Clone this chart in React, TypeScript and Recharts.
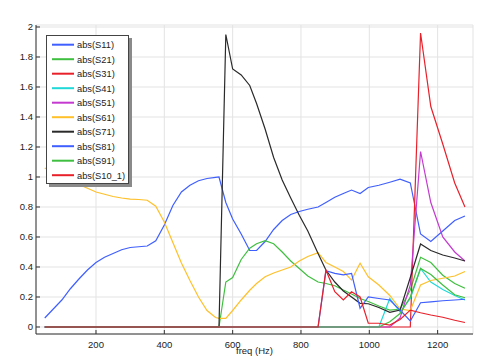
import React from "react";
import { LineChart, Line, XAxis, YAxis, CartesianGrid, Legend } from "recharts";

const FONT = "'Liberation Sans', Arial, sans-serif";

// fine sweep, only S11 and S61 are non-zero here
const FREQ_LOW = [50, 75, 100, 125, 150, 175, 200, 225, 250, 275, 300, 325, 350, 375, 400, 425, 450, 475, 500, 525, 550];
const S11_LOW = [0.06, 0.12, 0.18, 0.255, 0.32, 0.38, 0.43, 0.465, 0.49, 0.515, 0.53, 0.535, 0.54, 0.575, 0.68, 0.81, 0.9, 0.945, 0.975, 0.99, 0.998];
const S61_LOW = [1.06, 1.03, 1.0, 0.975, 0.95, 0.925, 0.9, 0.885, 0.87, 0.86, 0.853, 0.85, 0.845, 0.805, 0.7, 0.563, 0.427, 0.31, 0.2, 0.11, 0.063];

// coarse sweep
const FREQ_HIGH = [560, 580, 600, 625, 650, 670, 695, 720, 745, 770, 795, 820, 850, 873, 899, 924, 948, 973, 997, 1028, 1060, 1090, 1120, 1150, 1180, 1215, 1250, 1280];
const S11 = [1.0, 0.83, 0.72, 0.62, 0.51, 0.51, 0.57, 0.65, 0.71, 0.75, 0.77, 0.785, 0.8, 0.83, 0.865, 0.89, 0.913, 0.89, 0.93, 0.945, 0.965, 0.985, 0.96, 0.62, 0.57, 0.64, 0.71, 0.74];
const S21 = [0, 0.3, 0.33, 0.45, 0.525, 0.555, 0.575, 0.555, 0.5, 0.44, 0.39, 0.34, 0.3, 0.29, 0.275, 0.247, 0.22, 0.19, 0.17, 0.14, 0.113, 0.118, 0.247, 0.465, 0.43, 0.345, 0.29, 0.258];
const S31 = [0, 0, 0, 0, 0, 0, 0, 0, 0, 0, 0, 0, 0, 0, 0, 0, 0, 0, 0, 0, 0, 0, 0, 1.96, 1.47, 1.22, 0.96, 0.8];
const S41 = [0, 0, 0, 0, 0, 0, 0, 0, 0, 0, 0, 0, 0, 0, 0, 0, 0, 0, 0, 0, 0.19, 0.1, 0.19, 0.39, 0.3, 0.25, 0.21, 0.18];
const S51 = [0, 0, 0, 0, 0, 0, 0, 0, 0, 0, 0, 0, 0, 0, 0, 0, 0, 0, 0, 0, 0, 0.06, 0.28, 1.17, 0.83, 0.6, 0.5, 0.44];
const S61 = [0.058, 0.058, 0.11, 0.18, 0.245, 0.29, 0.335, 0.36, 0.38, 0.4, 0.44, 0.47, 0.495, 0.43, 0.4, 0.37, 0.313, 0.425, 0.335, 0.28, 0.21, 0.12, 0.11, 0.28, 0.31, 0.325, 0.34, 0.37];
const S71 = [0, 1.95, 1.72, 1.68, 1.61, 1.49, 1.32, 1.13, 0.98, 0.86, 0.745, 0.64, 0.49, 0.38, 0.3, 0.24, 0.2, 0.158, 0.155, 0.13, 0.098, 0.113, 0.33, 0.553, 0.51, 0.48, 0.46, 0.44];
const S81 = [0, 0, 0, 0, 0, 0, 0, 0, 0, 0, 0, 0, 0, 0.375, 0.357, 0.347, 0.357, 0.125, 0.2, 0.19, 0.18, 0.113, 0.04, 0.162, 0.168, 0.175, 0.18, 0.185];
const S91 = [0, 0, 0, 0, 0, 0, 0, 0, 0, 0, 0, 0, 0, 0, 0, 0, 0, 0, 0, 0, 0.035, 0.09, 0.2, 0.39, 0.35, 0.28, 0.215, 0.195];
const S10_1 = [0, 0, 0, 0, 0, 0, 0, 0, 0, 0, 0, 0, 0, 0.38, 0.235, 0.18, 0.235, 0.2, 0.025, 0.025, 0.013, 0.05, 0.113, 0.095, 0.08, 0.065, 0.045, 0.03];

const X_TICKS = [200, 400, 600, 800, 1000, 1200];
const Y_TICKS = [0, 0.2, 0.4, 0.6, 0.8, 1, 1.2, 1.4, 1.6, 1.8, 2];

const SERIES = [
  { key: "S11", name: "abs(S11)", color: "#3f5fff", values: S11 },
  { key: "S21", name: "abs(S21)", color: "#3fbf3f", values: S21 },
  { key: "S31", name: "abs(S31)", color: "#e8202a", values: S31 },
  { key: "S41", name: "abs(S41)", color: "#20d8d8", values: S41 },
  { key: "S51", name: "abs(S51)", color: "#c43ad0", values: S51 },
  { key: "S61", name: "abs(S61)", color: "#ffc02a", values: S61 },
  { key: "S71", name: "abs(S71)", color: "#2a2a2a", values: S71 },
  { key: "S81", name: "abs(S81)", color: "#3f5fff", values: S81 },
  { key: "S91", name: "abs(S91)", color: "#3fbf3f", values: S91 },
  { key: "S10_1", name: "abs(S10_1)", color: "#e8202a", values: S10_1 },
];

const data: Record<string, number>[] = [];
FREQ_LOW.forEach((f, i) => {
  const row: Record<string, number> = { f };
  SERIES.forEach((s) => (row[s.key] = 0));
  row.S11 = S11_LOW[i];
  row.S61 = S61_LOW[i];
  data.push(row);
});
FREQ_HIGH.forEach((f, i) => {
  const row: Record<string, number> = { f };
  SERIES.forEach((s) => (row[s.key] = s.values[i]));
  data.push(row);
});

const txt = { fontFamily: FONT, fontSize: 9.5, fill: "#222" };

const BottomTick = ({ x, y, payload }: any) => (
  <g>
    <line x1={x} x2={x} y1={y} y2={y - 4} stroke="#333" />
    <text x={x} y={y + 14} textAnchor="middle" {...txt}>{payload.value}</text>
  </g>
);
const TopTick = ({ x, y }: any) => <line x1={x} x2={x} y1={y} y2={y + 4} stroke="#333" />;
const LeftTick = ({ x, y, payload }: any) => (
  <g>
    <line x1={x} x2={x + 4} y1={y} y2={y} stroke="#333" />
    <text x={x - 3} y={y + 3.4} textAnchor="end" {...txt}>{payload.value}</text>
  </g>
);
const RightTick = ({ x, y }: any) => <line x1={x} x2={x - 4} y1={y} y2={y} stroke="#333" />;

const LegendBox = () => (
  <svg width={90} height={156} style={{ display: "block" }}>
    <rect x={3} y={3} width={83} height={149} fill="#8a8a8a" />
    <rect x={0.5} y={0.5} width={82} height={148} fill="#fff" stroke="#444" />
    {SERIES.map((s, i) => (
      <g key={s.key}>
        <line x1={6} x2={28} y1={9.7 + i * 14.5} y2={9.7 + i * 14.5} stroke={s.color} strokeWidth={2} />
        <text x={31} y={9.7 + i * 14.5 + 3.3} fontFamily={FONT} fontSize={9.3} fill="#222">{s.name}</text>
      </g>
    ))}
  </svg>
);

export default function App() {
  return (
    <div style={{ position: "absolute", left: 0, top: 0, width: 482, height: 363, background: "#fff" }}>
      <LineChart width={482} height={363} data={data} margin={{ top: 25, right: 9, bottom: 0, left: 0 }}>
        <CartesianGrid stroke="#e3e3e3" />
        <XAxis
          dataKey="f"
          type="number"
          domain={[24.4, 1303.5]}
          ticks={X_TICKS}
          allowDataOverflow
          height={29}
          tickSize={0}
          tickMargin={0}
          axisLine={{ stroke: "#333" }}
          tick={<BottomTick />}
          label={{
            content: () => (
              <text x={254.5} y={354} textAnchor="middle" {...txt}>freq (Hz)</text>
            ),
          }}
        />
        <XAxis
          xAxisId="t"
          orientation="top"
          dataKey="f"
          type="number"
          domain={[24.4, 1303.5]}
          ticks={X_TICKS}
          allowDataOverflow
          height={0}
          tickSize={0}
          tickMargin={0}
          axisLine={{ stroke: "#333" }}
          tick={<TopTick />}
          label={{
            content: () => (
              <text x={237.5} y={19.5} textAnchor="middle" {...txt}>Scattering Coefficients</text>
            ),
          }}
        />
        <YAxis
          type="number"
          domain={[-0.0467, 2.0133]}
          ticks={Y_TICKS}
          allowDataOverflow
          width={36}
          tickSize={0}
          tickMargin={0}
          axisLine={{ stroke: "#333" }}
          tick={<LeftTick />}
        />
        <YAxis
          yAxisId="r"
          orientation="right"
          type="number"
          domain={[-0.0467, 2.0133]}
          ticks={Y_TICKS}
          allowDataOverflow
          width={0}
          tickSize={0}
          tickMargin={0}
          axisLine={{ stroke: "#333" }}
          tick={<RightTick />}
        />
        {SERIES.map((s) => (
          <Line
            key={s.key}
            dataKey={s.key}
            name={s.name}
            type="linear"
            stroke={s.color}
            strokeWidth={1.2}
            dot={false}
            activeDot={false}
            isAnimationActive={false}
          />
        ))}
        <Legend
          layout="vertical"
          align="center"
          verticalAlign="middle"
          wrapperStyle={{ left: 46, top: 35, width: 90, height: 156 }}
          content={() => <LegendBox />}
        />
      </LineChart>
    </div>
  );
}
